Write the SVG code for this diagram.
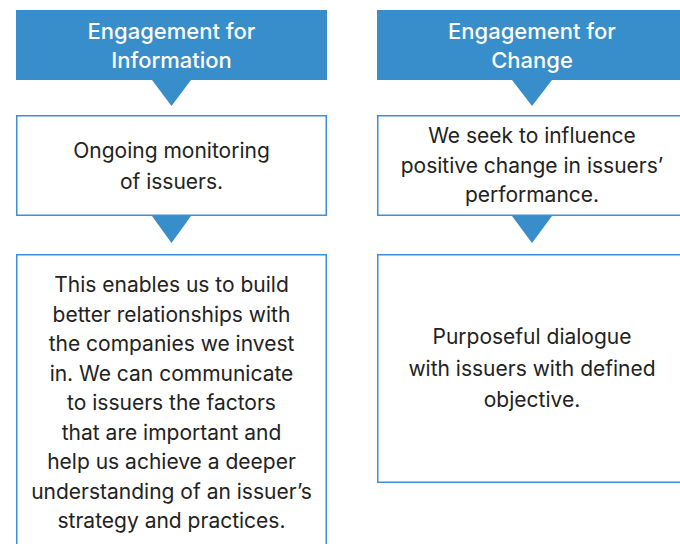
<svg xmlns="http://www.w3.org/2000/svg" width="680" height="544" viewBox="0 0 680 544">
  <style>
    .head { fill: #388dcb; }
    .pointer { fill: #388dcb; }
    .box { fill: #ffffff; stroke: #3a8fd8; stroke-width: 1.5; }
    .htxt { font-family: Inter, "Noto Sans", sans-serif; font-size: 22px; font-weight: 500; fill: #ffffff; text-anchor: middle; }
    .btxt { font-family: Inter, "Noto Sans", sans-serif; font-size: 21px; fill: #222222; text-anchor: middle; }
  </style>
  <rect width="680" height="544" fill="#ffffff"/>

  <!-- connectors: pointer triangles below headers and boxes -->
  <g id="connectors">
    <polygon class="pointer" points="152,80 191,80 171.5,106"/>
    <polygon class="pointer" points="152,216 191,216 171.5,243"/>
    <polygon class="pointer" points="512,80 552,80 532,106"/>
    <polygon class="pointer" points="512,216 552,216 532,243"/>
  </g>

  <!-- left column -->
  <g id="header-information">
    <rect class="head" x="16" y="10" width="311" height="70"/>
    <text class="htxt" x="171.5" y="39">Engagement for</text>
    <text class="htxt" x="171.5" y="68">Information</text>
  </g>
  <g id="box-monitoring">
    <rect class="box" x="16.75" y="115.75" width="309.5" height="99.5"/>
    <text class="btxt" x="171.5" y="158">Ongoing monitoring</text>
    <text class="btxt" x="171.5" y="189">of issuers.</text>
  </g>
  <g id="box-relationships">
    <rect class="box" x="16.75" y="254.75" width="309.5" height="300"/>
    <text class="btxt" x="171.5" y="292">This enables us to build</text>
    <text class="btxt" x="171.5" y="321.5">better relationships with</text>
    <text class="btxt" x="171.5" y="351">the companies we invest</text>
    <text class="btxt" x="171.5" y="380.5">in. We can communicate</text>
    <text class="btxt" x="171.5" y="410">to issuers the factors</text>
    <text class="btxt" x="171.5" y="439.5">that are important and</text>
    <text class="btxt" x="171.5" y="469">help us achieve a deeper</text>
    <text class="btxt" x="171.5" y="498.5">understanding of an issuer’s</text>
    <text class="btxt" x="171.5" y="528">strategy and practices.</text>
  </g>

  <!-- right column -->
  <g id="header-change">
    <rect class="head" x="377" y="10" width="310" height="70"/>
    <text class="htxt" x="532" y="39">Engagement for</text>
    <text class="htxt" x="532" y="68">Change</text>
  </g>
  <g id="box-influence">
    <rect class="box" x="377.75" y="115.75" width="310" height="99.5"/>
    <text class="btxt" x="532" y="143">We seek to influence</text>
    <text class="btxt" x="532" y="173">positive change in issuers’</text>
    <text class="btxt" x="532" y="202">performance.</text>
  </g>
  <g id="box-dialogue">
    <rect class="box" x="377.75" y="254.75" width="310" height="227.5"/>
    <text class="btxt" x="532" y="344">Purposeful dialogue</text>
    <text class="btxt" x="532" y="375.5">with issuers with defined</text>
    <text class="btxt" x="532" y="407">objective.</text>
  </g>
</svg>
